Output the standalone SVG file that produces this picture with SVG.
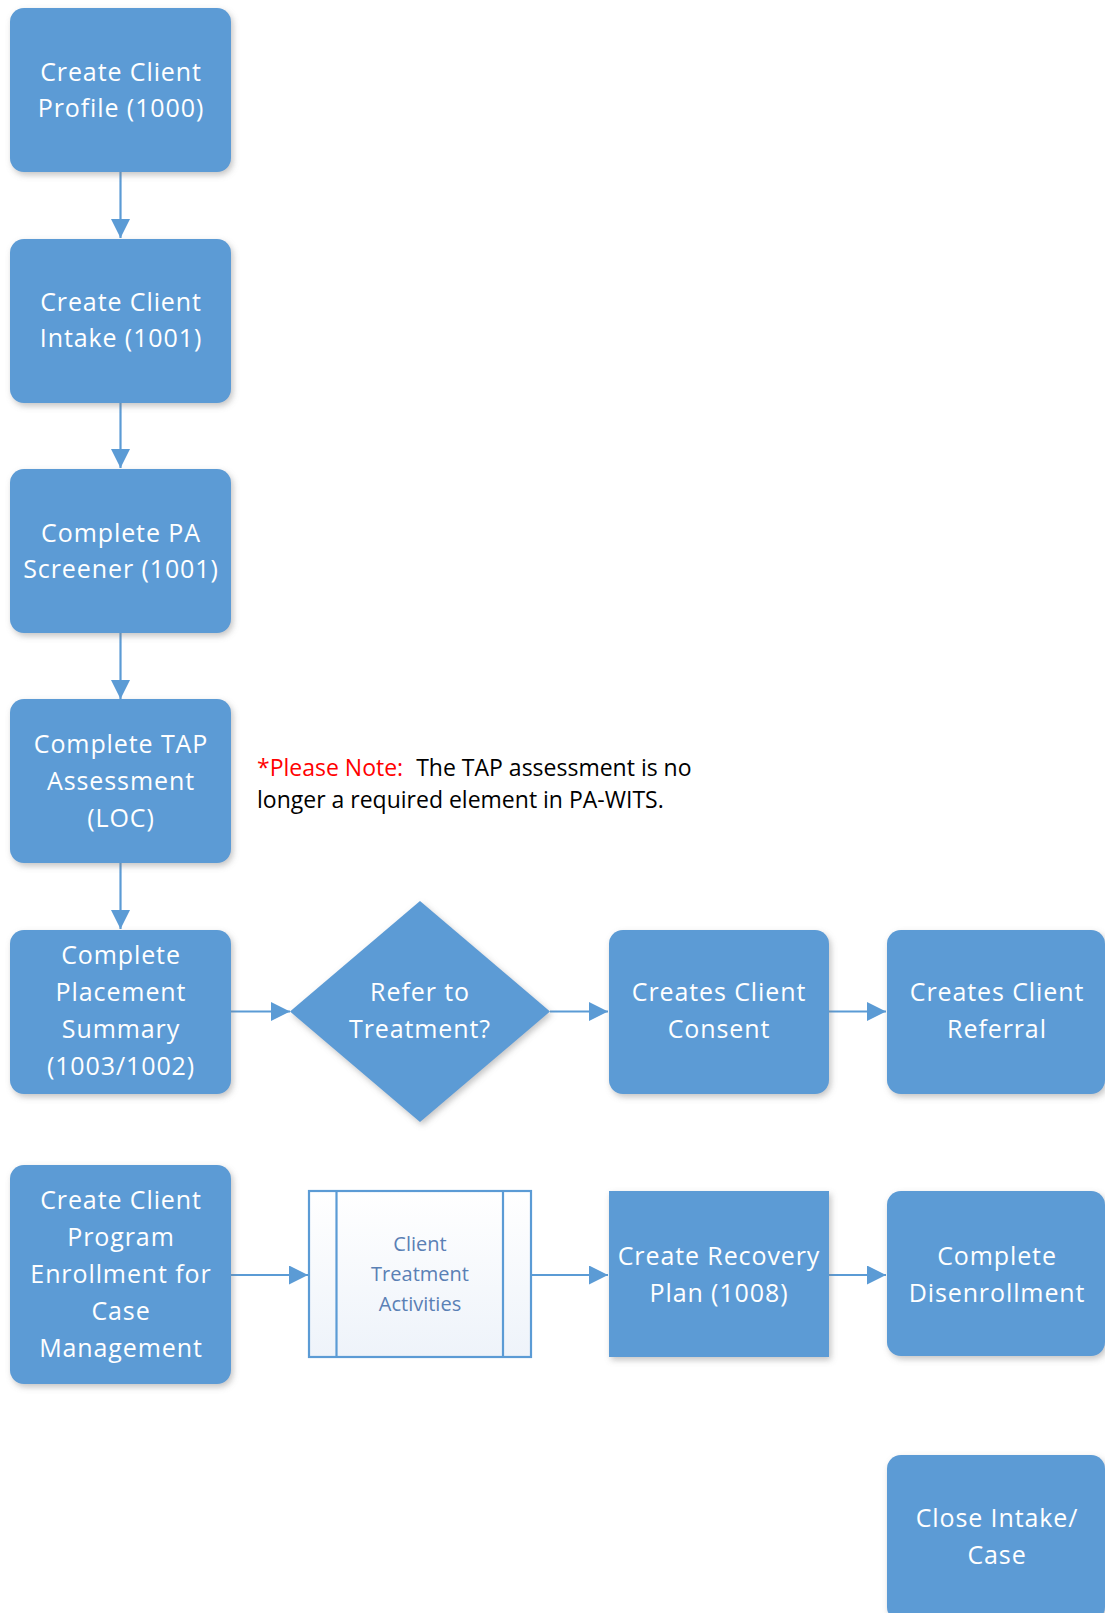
<svg xmlns="http://www.w3.org/2000/svg" width="1105" height="1613" viewBox="0 0 1105 1613">
<defs>
<filter id="sh" x="-10%" y="-10%" width="125%" height="125%">
<feDropShadow dx="2" dy="3" stdDeviation="3" flood-color="#7a7a7a" flood-opacity="0.45"/>
</filter>
<linearGradient id="pg" x1="0" y1="0" x2="0" y2="1">
<stop offset="0" stop-color="#ffffff"/>
<stop offset="1" stop-color="#eef3fa"/>
</linearGradient>
<marker id="ah2" viewBox="0 0 10 10" refX="10" refY="5" markerWidth="19" markerHeight="19" markerUnits="userSpaceOnUse" orient="auto">
<path d="M0,0 L10,5 L0,10 Z" fill="#5B9BD5"/>
</marker>
</defs>
<style>
.box{fill:#5B9BD5;filter:url(#sh)}
.t{font-family:"Open Sans","Noto Sans",sans-serif;font-size:25px;fill:#ffffff;text-anchor:middle;letter-spacing:0.9px}
.t2{font-family:"Open Sans","Noto Sans",sans-serif;font-size:20px;fill:#5a80b5;text-anchor:middle}
.c{stroke:#5B9BD5;stroke-width:2.2;fill:none;marker-end:url(#ah2)}
.note{font-family:"Open Sans","Noto Sans",sans-serif;font-size:23px;fill:#000000}
</style>
<rect width="1105" height="1613" fill="#ffffff"/>

<g id="connectors">
<line class="c" x1="120.5" y1="172" x2="120.5" y2="238"/>
<line class="c" x1="120.5" y1="403" x2="120.5" y2="468"/>
<line class="c" x1="120.5" y1="633" x2="120.5" y2="699"/>
<line class="c" x1="120.5" y1="863" x2="120.5" y2="929"/>
<line class="c" x1="231" y1="1011.5" x2="290" y2="1011.5"/>
<line class="c" x1="550" y1="1011.5" x2="608" y2="1011.5"/>
<line class="c" x1="829" y1="1011.5" x2="886" y2="1011.5"/>
<line class="c" x1="231" y1="1275" x2="308" y2="1275"/>
<line class="c" x1="531" y1="1275" x2="608" y2="1275"/>
<line class="c" x1="829" y1="1275" x2="886" y2="1275"/>
</g>

<g id="n1">
<rect class="box" x="10" y="8" width="221" height="164" rx="14"/>
<text class="t" x="121" y="81">Create Client</text>
<text class="t" x="121" y="117">Profile (1000)</text>
</g>
<g id="n2">
<rect class="box" x="10" y="239" width="221" height="164" rx="14"/>
<text class="t" x="121" y="311">Create Client</text>
<text class="t" x="121" y="347">Intake (1001)</text>
</g>
<g id="n3">
<rect class="box" x="10" y="469" width="221" height="164" rx="14"/>
<text class="t" x="121" y="542">Complete PA</text>
<text class="t" x="121" y="578">Screener (1001)</text>
</g>
<g id="n4">
<rect class="box" x="10" y="699" width="221" height="164" rx="14"/>
<text class="t" x="121" y="753">Complete TAP</text>
<text class="t" x="121" y="790">Assessment</text>
<text class="t" x="121" y="827">(LOC)</text>
</g>
<g id="note">
<text class="note" x="257" y="776"><tspan fill="#ff0000">*Please Note:</tspan><tspan dx="13">The TAP assessment is no</tspan></text>
<text class="note" x="257" y="808">longer a required element in PA-WITS.</text>
</g>
<g id="n5">
<rect class="box" x="10" y="930" width="221" height="164" rx="14"/>
<text class="t" x="121" y="964">Complete</text>
<text class="t" x="121" y="1001">Placement</text>
<text class="t" x="121" y="1038">Summary</text>
<text class="t" x="121" y="1075">(1003/1002)</text>
</g>
<g id="n6">
<polygon class="box" points="420,901 550,1011.5 420,1122 290,1011.5"/>
<text class="t" x="420" y="1001">Refer to</text>
<text class="t" x="420" y="1038">Treatment?</text>
</g>
<g id="n7">
<rect class="box" x="609" y="930" width="220" height="164" rx="14"/>
<text class="t" x="719" y="1001">Creates Client</text>
<text class="t" x="719" y="1038">Consent</text>
</g>
<g id="n8">
<rect class="box" x="887" y="930" width="218" height="164" rx="14"/>
<text class="t" x="997" y="1001">Creates Client</text>
<text class="t" x="997" y="1038">Referral</text>
</g>
<g id="n9">
<rect class="box" x="10" y="1165" width="221" height="219" rx="14"/>
<text class="t" x="121" y="1209">Create Client</text>
<text class="t" x="121" y="1246">Program</text>
<text class="t" x="121" y="1283">Enrollment for</text>
<text class="t" x="121" y="1320">Case</text>
<text class="t" x="121" y="1357">Management</text>
</g>
<g id="n10">
<rect x="309" y="1191" width="222" height="166" fill="url(#pg)" stroke="#5B9BD5" stroke-width="2.2"/>
<line x1="336.5" y1="1191" x2="336.5" y2="1357" stroke="#5B9BD5" stroke-width="2.2"/>
<line x1="503" y1="1191" x2="503" y2="1357" stroke="#5B9BD5" stroke-width="2.2"/>
<text class="t2" x="420" y="1251">Client</text>
<text class="t2" x="420" y="1281">Treatment</text>
<text class="t2" x="420" y="1311">Activities</text>
</g>
<g id="n11">
<rect class="box" x="609" y="1191" width="220" height="166"/>
<text class="t" x="719" y="1265">Create Recovery</text>
<text class="t" x="719" y="1302">Plan (1008)</text>
</g>
<g id="n12">
<rect class="box" x="887" y="1191" width="218" height="165" rx="14"/>
<text class="t" x="997" y="1265">Complete</text>
<text class="t" x="997" y="1302">Disenrollment</text>
</g>
<g id="n13">
<rect class="box" x="887" y="1455" width="218" height="166" rx="14"/>
<text class="t" x="997" y="1527">Close Intake/</text>
<text class="t" x="997" y="1564">Case</text>
</g>
</svg>
